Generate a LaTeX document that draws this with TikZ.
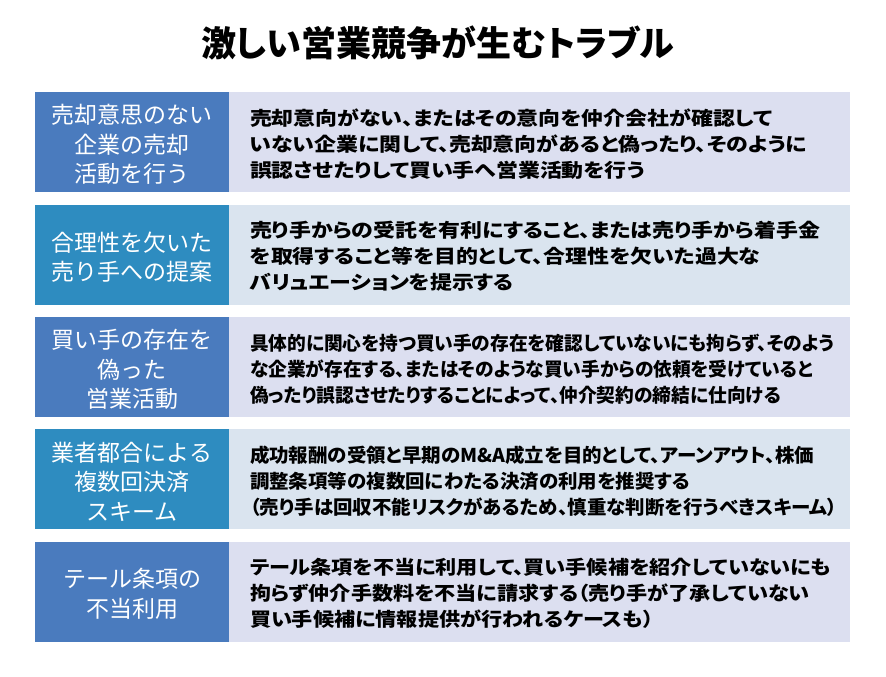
\documentclass[tikz,border=0pt]{standalone}
\usepackage{fontspec}
\setmainfont{Noto Sans CJK JP}[RawFeature={+palt}]
\newfontfamily\labfont{Noto Sans CJK JP}
\newfontfamily\bodyW{Noto Sans CJK JP}[RawFeature={+palt}, FakeStretch=1.153]
\newfontfamily\bodyC{Noto Sans CJK JP}[RawFeature={+palt}, FakeStretch=0.985]
\newfontfamily\bodyD{Noto Sans CJK JP}[RawFeature={+palt}, FakeStretch=1.025]
\newfontfamily\bodyE{Noto Sans CJK JP}[RawFeature={+palt}, FakeStretch=1.112]
\definecolor{labA}{HTML}{4A7BBE}
\definecolor{labB}{HTML}{2E8CC0}
\definecolor{bodA}{HTML}{DCDFF0}
\definecolor{bodB}{HTML}{DAE4EF}
\tikzset{
  labbox/.style={draw=none, minimum width=194pt, minimum height=100pt, inner sep=0pt},
  labtext/.style={inner sep=0pt, text=white, align=center,
    font=\labfont\fontsize{23pt}{29.5pt}\selectfont},
  bodbox/.style={draw=none, minimum width=621pt, minimum height=100pt, inner sep=0pt},
  bodtext/.style={anchor=west, inner sep=0pt, align=left, text=black, yshift=-2pt},
  bw/.style={font=\bodyW\fontsize{19pt}{26pt}\selectfont\bfseries},
  bc/.style={font=\bodyC\fontsize{19pt}{26pt}\selectfont\bfseries},
  bd/.style={font=\bodyD\fontsize{19pt}{26pt}\selectfont\bfseries},
  be/.style={font=\bodyE\fontsize{19pt}{26pt}\selectfont\bfseries},
}
\begin{document}
\begin{tikzpicture}[x=1pt,y=1pt]
\useasboundingbox[fill=white] (0,0) rectangle (886,-677);
\node[font=\fontsize{35pt}{40pt}\selectfont\bfseries, inner sep=0pt] (title) at (437.5,-43) {激しい営業競争が生むトラブル};
% row 1
\node[labbox, fill=labA] (l1) at (132,-142) {};
\node[labtext] (m1) at ([yshift=-2.5pt]l1.center) {売却意思のない\\企業の売却\\活動を行う};
\node[bodbox, fill=bodA] (b1) at (539.5,-142) {};
\node[bodtext, bw] (t1) at ([xshift=21pt]b1.west) {売却意向がない、またはその意向を仲介会社が確認して\\いない企業に関して、売却意向があると偽ったり、そのように\\誤認させたりして買い手へ営業活動を行う};
% row 2
\node[labbox, fill=labB] (l2) at (132,-254.5) {};
\node[labtext] (m2) at ([yshift=-2.5pt]l2.center) {合理性を欠いた\\売り手への提案};
\node[bodbox, fill=bodB] (b2) at (539.5,-254.5) {};
\node[bodtext, bw] (t2) at ([xshift=21pt]b2.west) {売り手からの受託を有利にすること、または売り手から着手金\\を取得すること等を目的として、合理性を欠いた過大な\\バリュエーションを提示する};
% row 3
\node[labbox, fill=labA] (l3) at (132,-367) {};
\node[labtext] (m3) at ([yshift=-2.5pt]l3.center) {買い手の存在を\\偽った\\営業活動};
\node[bodbox, fill=bodA] (b3) at (539.5,-367) {};
\node[bodtext, bc] (t3) at ([xshift=21pt]b3.west) {具体的に関心を持つ買い手の存在を確認していないにも拘らず、そのよう\\な企業が存在する、またはそのような買い手からの依頼を受けていると\\偽ったり誤認させたりすることによって、仲介契約の締結に仕向ける};
% row 4
\node[labbox, fill=labB] (l4) at (132,-479) {};
\node[labtext] (m4) at ([yshift=-2.5pt]l4.center) {業者都合による\\複数回決済\\スキーム};
\node[bodbox, fill=bodB] (b4) at (539.5,-479) {};
\node[bodtext, bd] (t4) at ([xshift=21pt]b4.west) {成功報酬の受領と早期のM\&A成立を目的として、アーンアウト、株価\\調整条項等の複数回にわたる決済の利用を推奨する\\（売り手は回収不能リスクがあるため、慎重な判断を行うべきスキーム）};
% row 5
\node[labbox, fill=labA] (l5) at (132,-591.5) {};
\node[labtext] (m5) at ([yshift=-2.5pt]l5.center) {テール条項の\\不当利用};
\node[bodbox, fill=bodA] (b5) at (539.5,-591.5) {};
\node[bodtext, be] (t5) at ([xshift=21pt]b5.west) {テール条項を不当に利用して、買い手候補を紹介していないにも\\拘らず仲介手数料を不当に請求する（売り手が了承していない\\買い手候補に情報提供が行われるケースも）};
\end{tikzpicture}
\end{document}
